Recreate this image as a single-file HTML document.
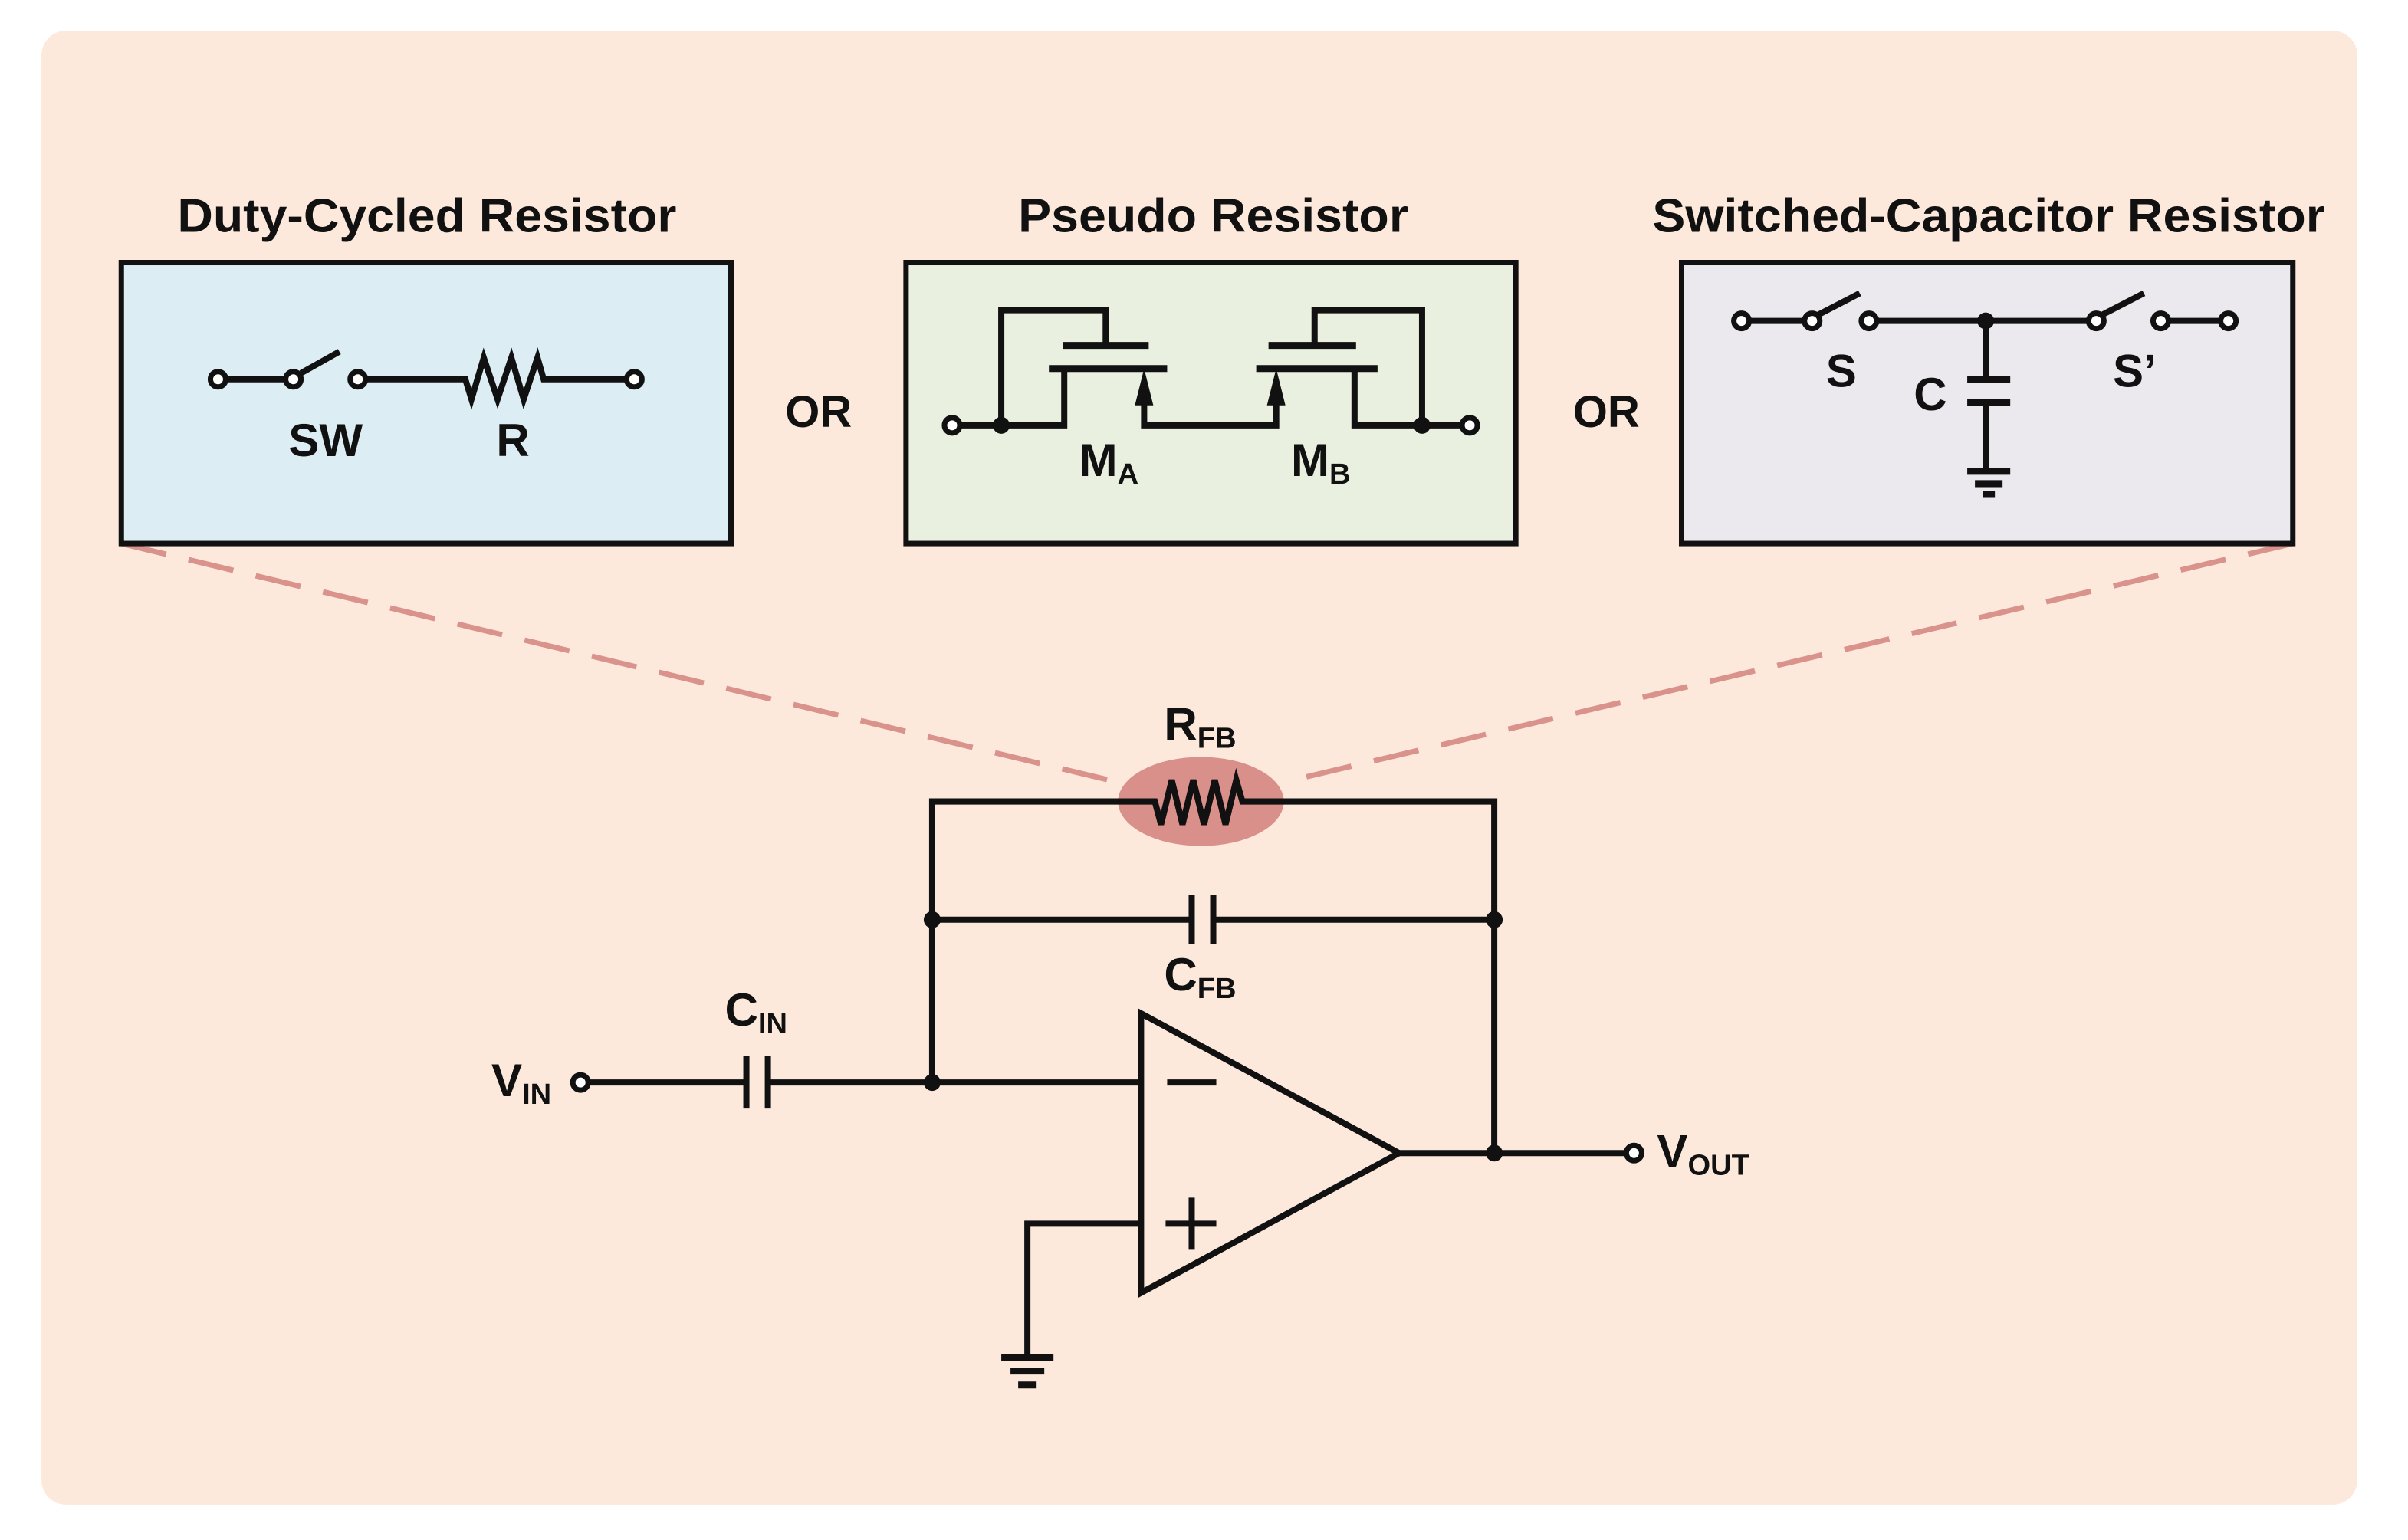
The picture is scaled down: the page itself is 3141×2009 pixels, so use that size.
<!DOCTYPE html>
<html><head><meta charset="utf-8"><style>
html,body{margin:0;padding:0;background:#fff;}
svg{display:block}
text{font-family:"Liberation Sans",sans-serif;font-weight:bold;fill:#111;}
</style></head><body>
<svg width="3141" height="2009" viewBox="0 0 1568 1003" preserveAspectRatio="none" xmlns="http://www.w3.org/2000/svg">
<rect x="27" y="20" width="1508" height="960" rx="16" fill="#fce9dc"/>
<g stroke="#d9928c" stroke-width="3.5" stroke-dasharray="30,15" fill="none">
<line x1="79" y1="354" x2="722" y2="508"/>
<line x1="1493" y1="354" x2="842" y2="508"/>
</g>
<g font-size="31" text-anchor="middle">
<text x="278" y="151" textLength="325" lengthAdjust="spacingAndGlyphs">Duty-Cycled Resistor</text>
<text x="790" y="151" textLength="254" lengthAdjust="spacingAndGlyphs">Pseudo Resistor</text>
<text x="1295" y="151" textLength="438" lengthAdjust="spacingAndGlyphs">Switched-Capacitor Resistor</text>
</g>
<g stroke="#111" stroke-width="3.5">
<rect x="79" y="171" width="397" height="183" fill="#dcedf3"/>
<rect x="590" y="171" width="397" height="183" fill="#eaf0df"/>
<rect x="1095" y="171" width="398" height="183" fill="#ebe8ee"/>
</g>
<g font-size="29" text-anchor="middle">
<text x="533" y="278">OR</text>
<text x="1046" y="278">OR</text>
</g>
<g stroke="#111" stroke-width="4" fill="none" stroke-linejoin="miter">
<line x1="146" y1="247" x2="187" y2="247"/>
<line x1="196" y1="243" x2="221" y2="229"/>
<polyline points="238,247 303,247 307,260 315,233 324,260 333,233 341,260 350,233 354,247 409,247"/>
<polyline points="624,277 693,277 693,240"/>
<polyline points="652,277 652,202 720,202 720,224"/>
<line x1="683" y1="240" x2="760" y2="240" stroke-width="4.5"/>
<line x1="692" y1="225" x2="748" y2="225" stroke-width="4.5"/>
<polyline points="745,262 745,277 831,277 831,262"/>
<line x1="818" y1="240" x2="897" y2="240" stroke-width="4.5"/>
<line x1="826" y1="225" x2="883" y2="225" stroke-width="4.5"/>
<polyline points="953,277 882,277 882,240"/>
<polyline points="926,277 926,202 856,202 856,224"/>
<line x1="1138" y1="209" x2="1176" y2="209"/>
<line x1="1184" y1="205" x2="1211" y2="191"/>
<line x1="1221" y1="209" x2="1361" y2="209"/>
<line x1="1369" y1="205" x2="1396" y2="191"/>
<line x1="1411" y1="209" x2="1447" y2="209"/>
<line x1="1293" y1="209" x2="1293" y2="247"/>
<line x1="1293" y1="262" x2="1293" y2="307"/>
<line x1="1281" y1="247" x2="1309" y2="247" stroke-width="4.5"/>
<line x1="1281" y1="262" x2="1309" y2="262" stroke-width="4.5"/>
<line x1="1281" y1="307" x2="1309" y2="307" stroke-width="4.5"/>
<line x1="1286" y1="315" x2="1304" y2="315" stroke-width="4.5"/>
<line x1="1291" y1="322" x2="1299" y2="322" stroke-width="4.5"/>
</g>
<g fill="#111">
<polygon points="745,240 739,264 751,264"/>
<polygon points="831,240 825,264 837,264"/>
<circle cx="652" cy="277" r="5.5"/><circle cx="926" cy="277" r="5.5"/>
<circle cx="1293" cy="209" r="5.5"/>
</g>
<g fill="#fff" stroke="#111" stroke-width="3.5">
<circle cx="142" cy="247" r="5"/><circle cx="191" cy="247" r="5"/><circle cx="233" cy="247" r="5"/><circle cx="413" cy="247" r="5"/>
<circle cx="620" cy="277" r="5"/><circle cx="957" cy="277" r="5"/>
<circle cx="1134" cy="209" r="5"/><circle cx="1180" cy="209" r="5"/><circle cx="1217" cy="209" r="5"/><circle cx="1365" cy="209" r="5"/><circle cx="1407" cy="209" r="5"/><circle cx="1451" cy="209" r="5"/>
</g>
<g font-size="30" text-anchor="middle">
<text x="212" y="297">SW</text>
<text x="334" y="297">R</text>
<text x="1199" y="252">S</text>
<text x="1257" y="267">C</text>
<text x="1390" y="252">S’</text>
<text x="722" y="310">M<tspan font-size="19" dy="5">A</tspan></text>
<text x="860" y="310">M<tspan font-size="19" dy="5">B</tspan></text>
</g>
<ellipse cx="782" cy="522" rx="54" ry="29" fill="#d9908a"/>
<g stroke="#111" stroke-width="4" fill="none">
<polyline points="607,705 607,522 752,522 756,537 763,508 770,537 777,508 784,537 791,508 798,537 805,508 809,522 973,522 973,751"/>
<line x1="607" y1="599" x2="776" y2="599"/>
<line x1="790" y1="599" x2="973" y2="599"/>
<line x1="776" y1="583" x2="776" y2="615"/>
<line x1="790" y1="583" x2="790" y2="615"/>
<line x1="383" y1="705" x2="486" y2="705"/>
<line x1="500" y1="705" x2="743" y2="705"/>
<line x1="486" y1="688" x2="486" y2="722"/>
<line x1="500" y1="688" x2="500" y2="722"/>
<polygon points="743,660 743,842 911,751"/>
<line x1="760" y1="705" x2="792" y2="705"/>
<line x1="759" y1="797" x2="792" y2="797"/>
<line x1="776" y1="780" x2="776" y2="814"/>
<polyline points="743,797 669,797 669,884"/>
<line x1="652" y1="884" x2="686" y2="884" stroke-width="4.5"/>
<line x1="658" y1="893" x2="680" y2="893" stroke-width="4.5"/>
<line x1="663" y1="902" x2="675" y2="902" stroke-width="4.5"/>
<line x1="911" y1="751" x2="1059" y2="751"/>
</g>
<g fill="#111">
<circle cx="607" cy="599" r="5.5"/><circle cx="973" cy="599" r="5.5"/><circle cx="607" cy="705" r="5.5"/><circle cx="973" cy="751" r="5.5"/>
</g>
<g fill="#fff" stroke="#111" stroke-width="3.5">
<circle cx="378" cy="705" r="5"/><circle cx="1064" cy="751" r="5"/>
</g>
<g font-size="30">
<text x="758" y="482">R<tspan font-size="19" dy="5">FB</tspan></text>
<text x="758" y="645">C<tspan font-size="19" dy="5">FB</tspan></text>
<text x="472" y="668">C<tspan font-size="19" dy="5">IN</tspan></text>
<text x="320" y="714">V<tspan font-size="19" dy="5">IN</tspan></text>
<text x="1079" y="760">V<tspan font-size="19" dy="5">OUT</tspan></text>
</g>
</svg>
</body></html>
